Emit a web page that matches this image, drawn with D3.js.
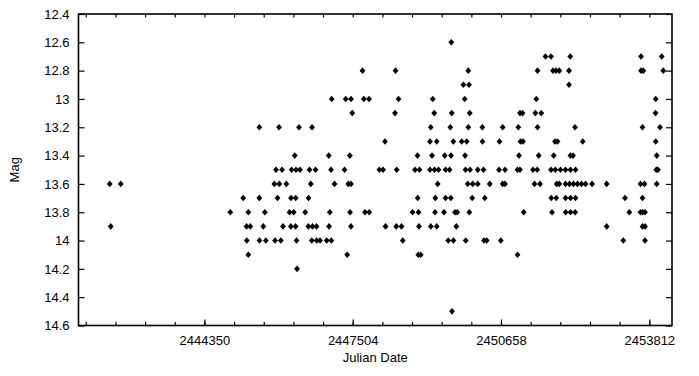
<!DOCTYPE html>
<html>
<head>
<meta charset="utf-8">
<script src="https://cdn.jsdelivr.net/npm/d3@7"></script>
<style>
  body { margin: 0; background: #fff; }
  svg { display: block; font-family: "Liberation Sans", Arial, sans-serif; }
</style>
</head>
<body>
<svg id="chart" width="699" height="376"></svg>
<script>
// observations, grouped by magnitude: [mag, [julian dates]]
const mags = [12.6, 12.7, 12.8, 12.9, 13.0, 13.1, 13.2, 13.3, 13.4, 13.5, 13.6, 13.7, 13.8, 13.9, 14.0, 14.1, 14.2, 14.5];
const dates = [
  [2449601],
  [2451605, 2451722, 2452132, 2453636, 2454076],
  [2447713, 2448415, 2449963, 2451435, 2451764, 2451828, 2451898, 2452105, 2453636, 2453685, 2454110],
  [2449857, 2449978, 2452105],
  [2447058, 2447355, 2447468, 2447740, 2447851, 2448478, 2449206, 2449886, 2451409, 2453948],
  [2447494, 2448404, 2449238, 2449610, 2449993, 2451062, 2451116, 2451388, 2451515, 2453944],
  [2445518, 2445937, 2446362, 2446639, 2449163, 2449580, 2449963, 2450261, 2450694, 2451026, 2451435, 2452232, 2453668, 2454040],
  [2448191, 2449148, 2449291, 2449644, 2449822, 2449929, 2450265, 2450626, 2451073, 2451126, 2451807, 2451860, 2452396, 2453948],
  [2446271, 2446994, 2447443, 2448882, 2449191, 2449461, 2449595, 2449893, 2451041, 2451460, 2451779, 2452136, 2452190, 2453970],
  [2445873, 2446001, 2446203, 2446298, 2446383, 2446585, 2446713, 2447043, 2447330, 2448070, 2448149, 2448440, 2448829, 2448925,
   2449148, 2449244, 2449329, 2449478, 2449563, 2449903, 2449999, 2450163, 2450286, 2450616, 2450743, 2451009, 2451062, 2451339,
   2451428, 2451722, 2451813, 2451924, 2452030, 2452136, 2452243, 2453961, 2453997],
  [2442336, 2442570, 2445837, 2445943, 2446092, 2446613, 2447117, 2447411, 2447468, 2449312, 2449950, 2450056, 2450163, 2450420,
   2450694, 2450743, 2451371, 2451488, 2451843, 2451898, 2452030, 2452115, 2452200, 2452285, 2452370, 2452455, 2452594, 2452906,
   2453625, 2453710, 2453970],
  [2445175, 2445518, 2445905, 2446192, 2446292, 2446564, 2448887, 2449261, 2449478, 2449591, 2450046, 2450312, 2451726, 2451834,
   2452030, 2452136, 2452243, 2453296, 2453668],
  [2444901, 2445284, 2445635, 2446160, 2446249, 2446494, 2447017, 2447447, 2447766, 2447855, 2448776, 2448904, 2449255, 2449446,
   2449680, 2449727, 2449984, 2451141, 2451743, 2452034, 2452136, 2452236, 2453387, 2453625, 2453668, 2453721],
  [2442357, 2445246, 2445326, 2445603, 2446022, 2446188, 2446288, 2446560, 2446649, 2446734, 2447000, 2447468, 2448202, 2448432,
   2448542, 2448914, 2449165, 2449291, 2449708, 2452906, 2453668, 2453721],
  [2445252, 2445522, 2445656, 2445852, 2445975, 2446309, 2446634, 2446738, 2446809, 2446951, 2447049, 2448568, 2449537, 2449648,
   2449908, 2450297, 2450354, 2450654, 2453259, 2453721],
  [2445284, 2447387, 2448899, 2448951, 2451009],
  [2446320],
  [2449616]
];

const xTicks = [2444350, 2447504, 2450658, 2453812];
const yTicks = [12.4, 12.6, 12.8, 13, 13.2, 13.4, 13.6, 13.8, 14, 14.2, 14.4, 14.6];

const points = [];
mags.forEach((m, i) => dates[i].forEach(jd => points.push({jd, mag: m})));

const svg = d3.select("#chart");
const mLeft = 78.5, mRight = 672, mTop = 14, mBottom = 325.5;

const x = d3.scaleLinear().domain([2441672, 2454295]).range([mLeft, mRight]);
const y = d3.scaleLinear().domain([12.4, 14.6]).range([mTop, mBottom]);

const step = (xTicks[1] - xTicks[0]) / 5;
const minor = d3.range(xTicks[0] - 4 * step, 2454295, step).filter(v => v > 2441672);

// bottom axis
svg.append("g")
    .attr("transform", `translate(0,${mBottom})`)
    .call(d3.axisBottom(x).tickValues(xTicks).tickSize(-6).tickPadding(10).tickFormat(d3.format("d")))
    .call(g => g.select(".domain").remove())
    .call(g => g.selectAll("text").attr("font-size", 13).attr("fill", "#000"));
svg.append("g")
    .attr("transform", `translate(0,${mBottom})`)
    .call(d3.axisBottom(x).tickValues(minor).tickSize(-3.5).tickFormat(""))
    .call(g => g.select(".domain").remove());
// top ticks
svg.append("g")
    .attr("transform", `translate(0,${mTop})`)
    .call(d3.axisTop(x).tickValues(minor).tickSize(-3.5).tickFormat(""))
    .call(g => g.select(".domain").remove());

// left axis
svg.append("g")
    .attr("transform", `translate(${mLeft},0)`)
    .call(d3.axisLeft(y).tickValues(yTicks).tickSize(-6).tickPadding(9).tickFormat(d3.format("")))
    .call(g => g.select(".domain").remove())
    .call(g => g.selectAll("text").attr("font-size", 13).attr("fill", "#000"));
// right ticks
svg.append("g")
    .attr("transform", `translate(${mRight},0)`)
    .call(d3.axisRight(y).tickValues(yTicks).tickSize(-6).tickFormat(""))
    .call(g => g.select(".domain").remove());

svg.selectAll(".tick line").attr("stroke", "#000").attr("stroke-width", 1.2);

// frame
svg.append("rect")
    .attr("x", mLeft).attr("y", mTop)
    .attr("width", mRight - mLeft).attr("height", mBottom - mTop)
    .attr("fill", "none").attr("stroke", "#000").attr("stroke-width", 1.6);

// points
svg.append("g").selectAll("path")
    .data(points)
    .join("path")
    .attr("transform", d => `translate(${x(d.jd)},${y(d.mag)})`)
    .attr("d", "M0,-3.3L2.9,0L0,3.3L-2.9,0Z")
    .attr("fill", "#000");

svg.append("text")
    .attr("x", (mLeft + mRight) / 2).attr("y", 362)
    .attr("text-anchor", "middle").attr("font-size", 13)
    .text("Julian Date");

svg.append("text")
    .attr("transform", `translate(19,${(mTop + mBottom) / 2}) rotate(-90)`)
    .attr("text-anchor", "middle").attr("font-size", 13)
    .text("Mag");
</script>
</body>
</html>
